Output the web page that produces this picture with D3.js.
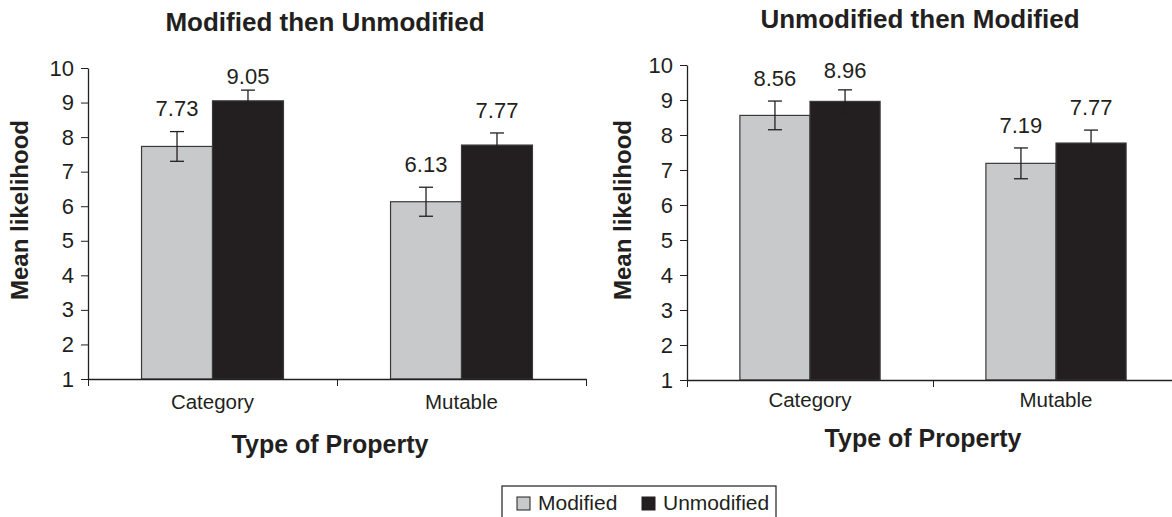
<!DOCTYPE html>
<html>
<head>
<meta charset="utf-8">
<script src="https://cdn.jsdelivr.net/npm/d3@7"></script>
<style>
  body { margin: 0; background: #fff; }
  svg { display: block; font-family: "Liberation Sans", Arial, sans-serif; }
</style>
</head>
<body>
<svg id="chart" width="1172" height="517"></svg>
<script>
// data
var categories = ["Category", "Mutable"];
var series = ["Modified", "Unmodified"];
var panelTitles = ["Modified then Unmodified", "Unmodified then Modified"];

// means, per panel: [series][category]
var modUnmodMeans = [[7.73, 6.13], [9.05, 7.77]];
var unmodModMeans = [[8.56, 7.19], [8.96, 7.77]];
// error bar half-widths
var modUnmodErr = [[0.43, 0.42], [0.31, 0.35]];
var unmodModErr = [[0.41, 0.44], [0.33, 0.37]];

var yTicks = [1, 2, 3, 4, 5, 6, 7, 8, 9, 10];
var colors = ["#c8c9cb", "#231f20"];
var ink = "#231f20";

var svg = d3.select("#chart");

function drawPanel(opt) {
    var x = d3.scaleBand()
        .domain(categories)
        .range([opt.left, opt.right])
        .paddingInner(0.43)
        .paddingOuter(0.215);
    var xs = d3.scaleBand().domain(series).range([0, x.bandwidth()]);
    var y = d3.scaleLinear().domain([1, 10]).range([opt.bottom, opt.top]);
    // boundaries between categories for the x ticks
    var xb = d3.scaleLinear().domain([0, categories.length]).range([opt.left, opt.right]);

    var g = svg.append("g");

    g.append("text")
        .attr("x", opt.titleX).attr("y", opt.titleY)
        .attr("text-anchor", "middle")
        .attr("dominant-baseline", "middle")
        .attr("font-size", 26).attr("font-weight", "bold")
        .attr("fill", ink)
        .text(opt.title);

    var rows = [];
    series.forEach(function(s, si) {
        categories.forEach(function(c, ci) {
            rows.push({ s: s, si: si, c: c, v: opt.means[si][ci], e: opt.err[si][ci] });
        });
    });

    var bars = g.selectAll(".bar").data(rows).enter().append("g");

    bars.append("rect")
        .attr("x", function(d) { return x(d.c) + xs(d.s); })
        .attr("y", function(d) { return y(d.v); })
        .attr("width", xs.bandwidth())
        .attr("height", function(d) { return y(1) - y(d.v); })
        .attr("fill", function(d) { return colors[d.si]; })
        .attr("stroke", "#3a3a3a")
        .attr("stroke-width", 1.2);

    // error bars
    bars.each(function(d) {
        var cx = x(d.c) + xs(d.s) + xs.bandwidth() / 2;
        var sel = d3.select(this);
        sel.append("line")
            .attr("x1", cx).attr("x2", cx)
            .attr("y1", y(d.v + d.e)).attr("y2", y(d.v - d.e))
            .attr("stroke", ink).attr("stroke-width", 1.3);
        [d.v + d.e, d.v - d.e].forEach(function(v) {
            sel.append("line")
                .attr("x1", cx - 7).attr("x2", cx + 7)
                .attr("y1", y(v)).attr("y2", y(v))
                .attr("stroke", ink).attr("stroke-width", 1.3);
        });
        sel.append("text")
            .attr("x", cx)
            .attr("y", Math.max(y(d.v + d.e) - 21, opt.labelMin))
            .attr("text-anchor", "middle")
            .attr("dominant-baseline", "middle")
            .attr("font-size", 22)
            .attr("fill", ink)
            .text(d.v.toFixed(2));
    });

    var yAxis = g.append("g")
        .attr("transform", "translate(" + opt.left + ",0)")
        .call(d3.axisLeft(y).tickValues(yTicks).tickSize(7).tickSizeOuter(0).tickFormat(d3.format("d")));
    yAxis.attr("font-size", null).attr("font-family", null);
    yAxis.selectAll("text").style("font-size", "22px").attr("fill", ink).attr("dx", "-4");
    yAxis.selectAll("line").attr("stroke", ink);
    yAxis.select(".domain").attr("stroke", ink).attr("stroke-width", 1.3);

    var xAxis = g.append("g")
        .attr("transform", "translate(0," + opt.bottom + ")")
        .call(d3.axisBottom(xb).tickValues(d3.range(categories.length + 1)).tickSize(7).tickSizeOuter(0).tickFormat(""));
    xAxis.selectAll("line").attr("stroke", ink);
    xAxis.select(".domain").attr("stroke", ink).attr("stroke-width", 1.3);

    g.selectAll(".cat").data(categories).enter().append("text")
        .attr("x", function(c) { return x(c) + x.bandwidth() / 2; })
        .attr("y", opt.catY)
        .attr("text-anchor", "middle")
        .attr("dominant-baseline", "middle")
        .attr("font-size", 20.5)
        .attr("fill", ink)
        .text(function(c) { return c; });

    g.append("text")
        .attr("x", opt.xTitleX).attr("y", opt.xTitleY)
        .attr("text-anchor", "middle")
        .attr("dominant-baseline", "middle")
        .attr("font-size", 25).attr("font-weight", "bold")
        .attr("fill", ink)
        .text("Type of Property");

    g.append("text")
        .attr("transform", "translate(" + opt.yTitleX + "," + opt.yTitleY + ") rotate(-90)")
        .attr("text-anchor", "middle")
        .attr("dominant-baseline", "middle")
        .attr("font-size", 24).attr("font-weight", "bold")
        .attr("fill", ink)
        .text("Mean likelihood");
}

drawPanel({
    title: panelTitles[0], means: modUnmodMeans, err: modUnmodErr,
    left: 88, right: 586, top: 68, bottom: 379, labelMin: 78,
    titleX: 325, titleY: 24, catY: 404, xTitleX: 330, xTitleY: 446,
    yTitleX: 22, yTitleY: 210
});

drawPanel({
    title: panelTitles[1], means: unmodModMeans, err: unmodModErr,
    left: 687, right: 1179, top: 65, bottom: 380, labelMin: 72,
    titleX: 920, titleY: 21, catY: 402, xTitleX: 923, xTitleY: 440,
    yTitleX: 625, yTitleY: 210
});

// legend
var legend = svg.append("g");
legend.append("rect")
    .attr("x", 502).attr("y", 486).attr("width", 274).attr("height", 40)
    .attr("fill", "none").attr("stroke", ink).attr("stroke-width", 1.2);
var legX = d3.scalePoint().domain(series).range([517, 642]);
series.forEach(function(s, i) {
    legend.append("rect")
        .attr("x", legX(s)).attr("y", 497)
        .attr("width", 13).attr("height", 13)
        .attr("fill", colors[i]).attr("stroke", ink).attr("stroke-width", 1);
    legend.append("text")
        .attr("x", legX(s) + 21).attr("y", 504)
        .attr("dominant-baseline", "middle")
        .attr("font-size", 21).attr("fill", ink)
        .text(s);
});
</script>
</body>
</html>
